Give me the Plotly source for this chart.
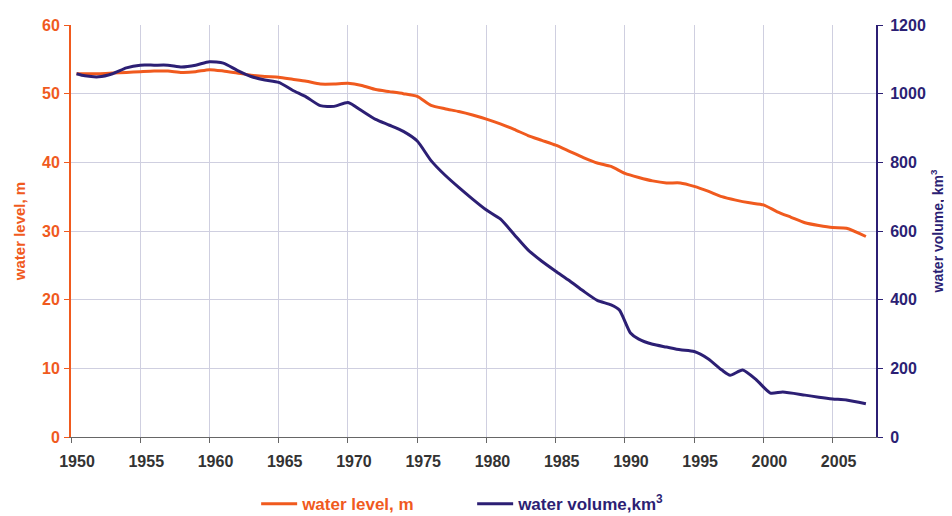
import plotly.graph_objects as go

# water level, m (left axis)
level_years = [1950.4, 1951, 1952, 1953, 1954, 1955, 1956, 1957, 1958, 1959, 1960, 1961, 1962,
               1963, 1964, 1965, 1966, 1967, 1968, 1969, 1970, 1971, 1972, 1973, 1974, 1975,
               1976, 1977, 1978, 1979, 1980, 1981, 1982, 1983, 1984, 1985, 1986, 1987, 1988,
               1989, 1990, 1991, 1992, 1993, 1994, 1995, 1996, 1997, 1998, 1999, 2000, 2001,
               2002, 2003, 2004, 2005, 2006, 2007.4]
level_values = [52.9, 52.9, 52.9, 53.0, 53.1, 53.2, 53.3, 53.3, 53.1, 53.2, 53.5, 53.3, 53.0,
                52.7, 52.5, 52.4, 52.1, 51.8, 51.4, 51.4, 51.5, 51.2, 50.6, 50.3, 50.0, 49.6,
                48.3, 47.8, 47.4, 46.9, 46.3, 45.6, 44.8, 43.9, 43.2, 42.5, 41.6, 40.7, 39.9,
                39.4, 38.4, 37.8, 37.3, 37.0, 37.0, 36.5, 35.8, 35.0, 34.5, 34.1, 33.8, 32.8,
                32.0, 31.2, 30.8, 30.5, 30.4, 29.2]

# water volume, km3 (right axis)
volume_years = [1950.4, 1951, 1952, 1953, 1954, 1955, 1956, 1957, 1958, 1959, 1960, 1961, 1962,
                1963, 1964, 1965, 1966, 1967, 1968, 1969, 1970, 1971, 1972, 1973, 1974, 1975,
                1976, 1977, 1978, 1979, 1980, 1981, 1982, 1983, 1984, 1985, 1986, 1987, 1988,
                1989, 1989.6, 1990.4, 1991, 1992, 1993, 1994, 1995, 1996, 1997, 1997.6, 1998.5,
                1999.5, 2000.5, 2001.4, 2003, 2004, 2005, 2006, 2007.4]
volume_values = [1058, 1052, 1049, 1058, 1075, 1083, 1083, 1083, 1078, 1083, 1093, 1089, 1068,
                 1050, 1040, 1033, 1010, 990, 965, 963, 974, 950, 925, 908, 890, 862,
                 805, 763, 727, 693, 661, 635, 590, 545, 512, 483, 455, 425, 398,
                 385, 370, 303, 285, 270, 262, 254, 249, 228, 195, 180, 195,
                 166, 128, 131, 122, 116, 111, 108, 97]

x_ticks = [1950, 1955, 1960, 1965, 1970, 1975, 1980, 1985, 1990, 1995, 2000, 2005]
level_ticks = [0, 10, 20, 30, 40, 50, 60]
volume_ticks = [0, 200, 400, 600, 800, 1000, 1200]

ORANGE = "#f05a1e"
NAVY = "#2c1f74"
GRID = "#cfcfe0"
FONT = "Liberation Sans, Arial, sans-serif"

fig = go.Figure()
fig.add_trace(go.Scatter(
    x=level_years, y=level_values, mode="lines",
    line=dict(color=ORANGE, width=3, shape="spline", smoothing=0.6),
    name=f"<span style='color:{ORANGE}'><b>water level, m</b></span>",
    yaxis="y"))
fig.add_trace(go.Scatter(
    x=volume_years, y=volume_values, mode="lines",
    line=dict(color=NAVY, width=3, shape="spline", smoothing=0.6),
    name=f"<span style='color:{NAVY}'><b>water volume,km<sup>3</sup></b></span>",
    yaxis="y2"))

# page body has an 8px margin, so the figure is sized to the visible window minus that
fig.update_layout(
    width=944, height=508,
    margin=dict(l=63, r=76, t=17, b=79, autoexpand=False),
    paper_bgcolor="white", plot_bgcolor="white",
    font=dict(family=FONT, size=14, color="#333333"),
    showlegend=True,
    legend=dict(orientation="h", x=0.23, xanchor="left", y=-0.163, yanchor="middle",
                font=dict(family=FONT, size=17), itemwidth=36, tracegroupgap=0,
                entrywidth=165, bgcolor="rgba(0,0,0,0)"),
    xaxis=dict(range=[1950, 2008.13], tickvals=x_ticks, ticktext=[str(t) for t in x_ticks],
               showgrid=True, gridcolor=GRID, gridwidth=1,
               showline=True, linecolor="#666666", linewidth=1,
               ticks="outside", ticklen=5, tickcolor="#666666",
               tickfont=dict(family=FONT, size=16, color="#333333", weight="bold"),
               ticklabelshift=6, ticklabelstandoff=5, zeroline=False, automargin=False),
    yaxis=dict(range=[0, 60], tickvals=level_ticks,
               showgrid=True, gridcolor=GRID, gridwidth=1,
               showline=True, linecolor=ORANGE, linewidth=2,
               ticks="outside", ticklen=5, tickcolor=ORANGE,
               tickfont=dict(family=FONT, size=16, color=ORANGE, weight="bold"),
               title=dict(text="<b>water level, m</b>", font=dict(family=FONT, size=15, color=ORANGE),
                          standoff=13),
               zeroline=False, ticklabelstandoff=1, automargin=False),
    yaxis2=dict(range=[0, 1200], tickvals=volume_ticks, overlaying="y", side="right",
                showgrid=False,
                showline=True, linecolor=NAVY, linewidth=2,
                ticks="outside", ticklen=5, tickcolor=NAVY,
                tickfont=dict(family=FONT, size=16, color=NAVY, weight="bold"),
                title=dict(text="<b>water volume, km<sup>3</sup></b>",
                           font=dict(family=FONT, size=14, color=NAVY), standoff=8),
                zeroline=False, ticklabelstandoff=4, automargin=False),
)

fig.write_html("out.html")
